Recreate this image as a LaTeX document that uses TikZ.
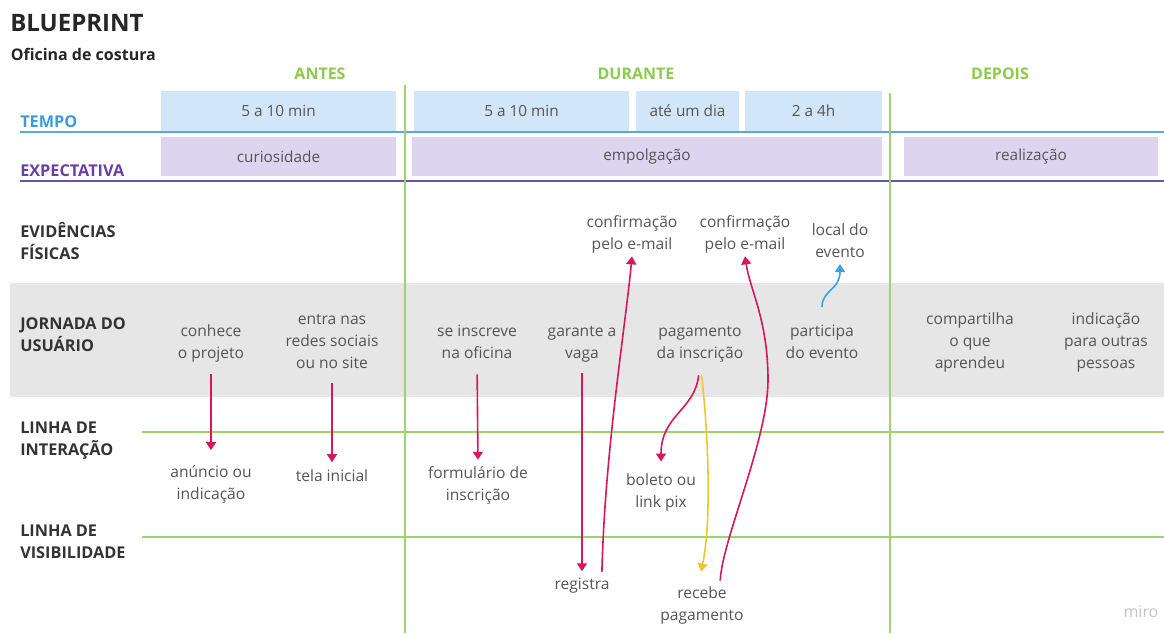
\documentclass[tikz,border=0pt]{standalone}
\usepackage{fontspec}
\setmainfont{Open Sans}
\usetikzlibrary{arrows.meta}

\definecolor{bodygray}{HTML}{555555}
\definecolor{labeldark}{HTML}{333333}
\definecolor{phasegreen}{HTML}{8CCB4E}
\definecolor{linegreen}{HTML}{9FD46A}
\definecolor{tempoblue}{HTML}{3C9BE0}
\definecolor{tempoline}{HTML}{5AA8D6}
\definecolor{expviolet}{HTML}{6A3FA3}
\definecolor{expline}{HTML}{6E50A6}
\definecolor{tempofill}{HTML}{D1E6F8}
\definecolor{expfill}{HTML}{DDD4EF}
\definecolor{bandgray}{HTML}{E6E6E6}
\definecolor{arrmag}{HTML}{D6175E}
\definecolor{arryellow}{HTML}{F4C430}
\definecolor{arrblue}{HTML}{3AA0E4}
\definecolor{logogray}{HTML}{C4C4C4}

\begin{document}
% multi-line nodes are placed by the baseline of their last line
\begin{tikzpicture}[x=0.75pt,y=-0.75pt,
  body/.style={font=\fontsize{11.7}{16.5}\selectfont, text=bodygray,
    align=center, inner sep=0pt, anchor=base},
  rowlabel/.style={font=\bfseries\fontsize{12.2}{16.1}\selectfont, text=labeldark,
    align=left, inner sep=0pt, anchor=base west},
  phase/.style={font=\bfseries\fontsize{12}{14}\selectfont, text=phasegreen,
    inner sep=0pt, anchor=base},
  tbox/.style={fill=tempofill, inner sep=0pt, minimum height=30pt,
    font=\fontsize{11.5}{14}\selectfont, text=bodygray},
  ebox/.style={fill=expfill, inner sep=0pt, minimum height=29.25pt,
    font=\fontsize{11.5}{14}\selectfont, text=bodygray},
  conn/.style={-{Triangle[width=7.5pt,length=6pt]}, line width=1.2pt, draw=arrmag},
  greenrule/.style={draw=linegreen, line width=1.4pt}
]
\useasboundingbox (0,0) rectangle (1164,633);
\fill[white] (0,0) rectangle (1164,633);

% journey band
\fill[bandgray] (10,283) rectangle (1164,397);

% title
\node[font=\bfseries\fontsize{18}{20}\selectfont, text=black!85, inner sep=0pt, anchor=base west] (title) at (10,31) {BLUEPRINT};
\node[font=\bfseries\fontsize{12}{14}\selectfont, text=black!85, inner sep=0pt, anchor=base west] (subtitle) at (10.5,60) {Oficina de costura};

% phases
\node[phase] (antes) at (320,79) {ANTES};
\node[phase] (durante) at (636,79) {DURANTE};
\node[phase] (depois) at (1000,79) {DEPOIS};

% time boxes
\node[tbox, minimum width=176.25pt] (t1) at (278.5,111) {5 a 10 min};
\node[tbox, minimum width=161.25pt] (t2) at (521.5,111) {5 a 10 min};
\node[tbox, minimum width=77.25pt] (t3) at (687.5,111) {até um dia};
\node[tbox, minimum width=102.75pt] (t4) at (813.5,111) {2 a 4h};

% expectation boxes
\node[ebox, minimum width=176.25pt] (e1) at (278.5,156.5) {curiosidade};
\node[ebox, minimum width=352.5pt] (e2) at (647,156.5) {empolgação};
\node[ebox, minimum width=190.5pt] (e3) at (1031,156.5) {realização};

% horizontal rules
\draw[draw=tempoline, line width=1.4pt] (20,132) -- (1164,132);
\draw[draw=expline, line width=1.4pt] (20,181) -- (1164,181);
\draw[greenrule] (142,432) -- (1164,432);
\draw[greenrule] (142,537) -- (1164,537);

% phase dividers
\draw[greenrule] (405,85) -- (405,633);
\draw[greenrule] (890,93) -- (890,633);

% row labels
\node[rowlabel, text=tempoblue] (ltempo) at (20,127) {TEMPO};
\node[rowlabel, text=expviolet] (lexp) at (20,176) {EXPECTATIVA};
\node[rowlabel] (levid) at (20,259) {EVIDÊNCIAS\\FÍSICAS};
\node[rowlabel] (ljorn) at (20,351) {JORNADA DO\\USUÁRIO};
\node[rowlabel] (linter) at (20,455) {LINHA DE\\INTERAÇÃO};
\node[rowlabel] (lvis) at (20,558) {LINHA DE\\VISIBILIDADE};

% physical evidence
\node[body] (conf1) at (632,249) {confirmação\\pelo e-mail};
\node[body] (conf2) at (745,249) {confirmação\\pelo e-mail};
\node[body] (local) at (840,257) {local do\\evento};

% user journey
\node[body] (conhece) at (211,358) {conhece\\o projeto};
\node[body] (entra) at (332,368) {entra nas\\redes sociais\\ou no site};
\node[body] (inscreve) at (477,358) {se inscreve\\na oficina};
\node[body] (garante) at (582,358) {garante a\\vaga};
\node[body] (pagamento) at (700,358) {pagamento\\da inscrição};
\node[body] (participa) at (822,358) {participa\\do evento};
\node[body] (compartilha) at (970,368) {compartilha\\o que\\aprendeu};
\node[body] (indicacao) at (1106,368) {indicação\\para outras\\pessoas};

% front stage
\node[body] (anuncio) at (211,499) {anúncio ou\\indicação};
\node[body] (tela) at (332,481) {tela inicial};
\node[body] (formulario) at (478,500) {formulário de\\inscrição};
\node[body] (boleto) at (661,507) {boleto ou\\link pix};

% back stage
\node[body] (registra) at (582,589) {registra};
\node[body] (recebe) at (702,620) {recebe\\pagamento};

% logo
\node[font=\fontsize{12}{14}\selectfont, text=logogray, inner sep=0pt, anchor=base] (logo) at (1141,617) {miro};

% connectors
\draw[conn, shorten <=9pt, shorten >=11pt] (conhece.south) -- (anuncio.north);
\draw[conn, shorten <=11pt, shorten >=5pt] (entra.south) -- (tela.north);
\draw[conn, shorten <=12pt, shorten >=4.5pt] (inscreve.south) -- (formulario.north);
\draw[conn, shorten <=8.5pt, shorten >=4.5pt] (garante.south) -- (registra.north);
\draw[conn, shorten <=4pt] ([xshift=-6pt]registra.north east)
  .. controls (605,450) and (625,330) .. ([yshift=-2.5pt]conf1.south);
\draw[conn, shorten <=10pt, shorten >=8.5pt] (pagamento.south)
  .. controls (695,410) and (661,415) .. (boleto.north);
\draw[conn, draw=arryellow, shorten <=10pt, shorten >=11pt] (pagamento.south)
  .. controls (708,430) and (712,520) .. ([xshift=-3pt]recebe.north);
\draw[conn, shorten <=4pt] ([xshift=13.5pt]recebe.north)
  .. controls (722,540) and (768,440) .. (768,380)
  .. controls (768,320) and (750,290) .. ([yshift=-2.5pt]conf2.south);
\draw[conn, draw=arrblue, shorten <=13pt, shorten >=5pt] (participa.north)
  .. controls (822,290) and (840,290) .. (local.south);
\end{tikzpicture}
\end{document}
